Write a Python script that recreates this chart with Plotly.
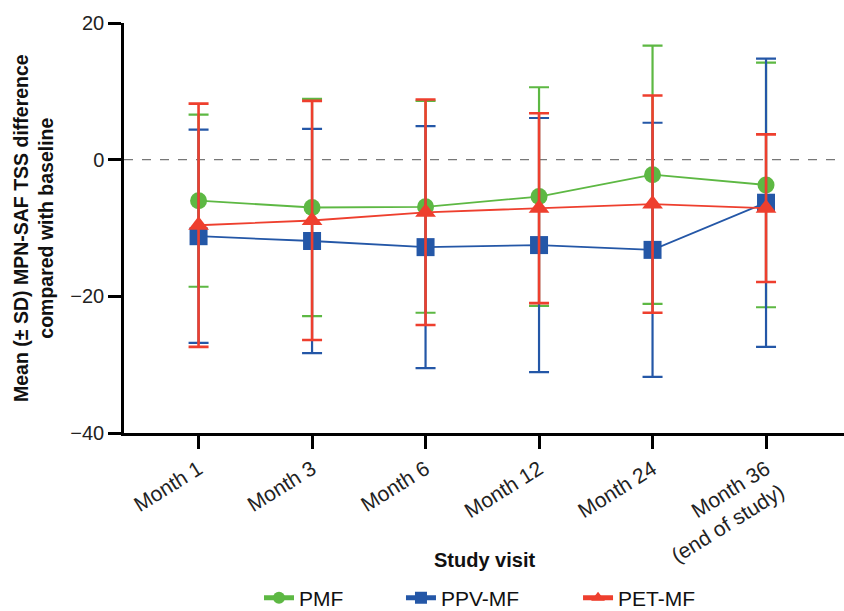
import plotly.graph_objects as go

categories = ["Month 1", "Month 3", "Month 6", "Month 12", "Month 24", "Month 36<br>(end of study)"]

pmf_mean = [-6.0, -7.0, -6.9, -5.4, -2.2, -3.7]
pmf_sd = [12.6, 15.9, 15.5, 16.0, 18.9, 17.9]

ppv_mean = [-11.2, -11.9, -12.8, -12.5, -13.2, -6.3]
ppv_sd = [15.6, 16.4, 17.7, 18.6, 18.6, 21.1]

pet_mean = [-9.6, -8.9, -7.7, -7.1, -6.5, -7.1]
pet_sd = [17.8, 17.5, 16.5, 13.9, 15.9, 10.8]

y_ticks = [-40, -20, 0, 20]

GREEN = "#5DB843"
BLUE = "#2457A7"
RED = "#EE3F2E"

fig = go.Figure()

series = [
    ("PMF", pmf_mean, pmf_sd, GREEN, "circle", 17, 2.2, "legend"),
    ("PPV-MF", ppv_mean, ppv_sd, BLUE, "square", 18, 2.2, "legend2"),
    ("PET-MF", pet_mean, pet_sd, RED, "triangle-up", 18, 2.6, "legend3"),
]

for name, mean, sd, color, sym, size, ew, lg in series:
    fig.add_trace(go.Scatter(
        x=categories, y=mean, name=name, legend=lg,
        mode="lines+markers",
        line=dict(color=color, width=1.8),
        marker=dict(symbol=sym, size=size, color=color),
        error_y=dict(type="data", array=sd, visible=True, color=color,
                     thickness=ew, width=10),
    ))

fig.add_shape(type="line", xref="paper", yref="y", x0=0, x1=1, y0=0, y1=0,
              line=dict(color="#777777", width=1.3, dash="dash"), layer="below")

leg_common = dict(orientation="h", yref="container", y=0.0213, yanchor="middle",
                  xanchor="left", font=dict(size=21, color="#111111"),
                  bgcolor="rgba(0,0,0,0)", itemsizing="constant")

fig.update_layout(
    width=844, height=611,
    margin=dict(l=124, r=0, t=23, b=178),
    plot_bgcolor="white", paper_bgcolor="white",
    font=dict(family="Liberation Sans, Arial, sans-serif", size=19, color="#111111"),
    showlegend=True,
    legend=dict(x=0.1875, **leg_common),
    legend2=dict(x=0.3847, **leg_common),
    legend3=dict(x=0.6306, **leg_common),
    xaxis=dict(
        range=[-0.657, 5.687], showgrid=False, zeroline=False,
        showline=True, linecolor="black", linewidth=2.5,
        ticks="outside", ticklen=13, tickwidth=2.5, tickcolor="black",
        tickangle=-32, tickfont=dict(size=21, color="#222222"),
    ),
    yaxis=dict(
        range=[-40, 20], tickvals=y_ticks, showgrid=False, zeroline=False,
        showline=True, linecolor="black", linewidth=2.5,
        ticks="outside", ticklen=13, tickwidth=2.5, tickcolor="black",
        tickfont=dict(size=20, color="#222222"),
    ),
    annotations=[
        dict(text="<b>Study visit</b>", xref="paper", yref="paper",
             x=0.5, y=-0.3098, xanchor="center", yanchor="middle",
             showarrow=False, font=dict(size=20, color="#111111")),
        dict(text="<b>Mean (± SD) MPN-SAF TSS difference<br>compared with baseline</b>",
             xref="paper", yref="paper", x=-0.1264, y=0.5, textangle=-90,
             xanchor="center", yanchor="middle", showarrow=False,
             font=dict(size=19.5, color="#111111")),
    ],
)

fig.write_html(
    "out.html",
    config={"displayModeBar": False},
    post_script="document.body.style.margin='0';document.body.style.overflow='hidden';",
)
